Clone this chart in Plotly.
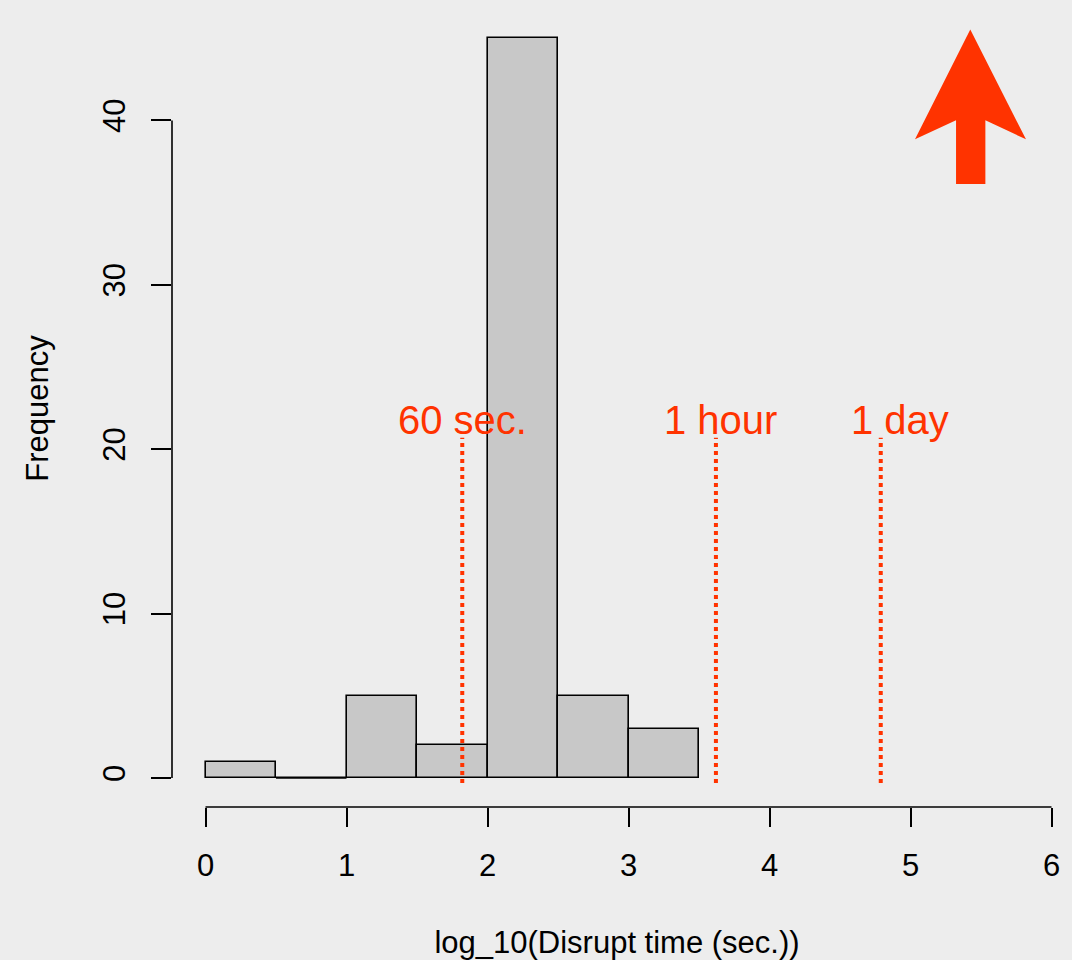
import plotly.graph_objects as go

# ---- data ----
bin_left = [0.0, 0.5, 1.0, 1.5, 2.0, 2.5, 3.0]
bin_width = 0.5
counts = [1, 0, 5, 2, 45, 5, 3]

x_ticks = [0, 1, 2, 3, 4, 5, 6]
y_ticks = [0, 10, 20, 30, 40]

marker_labels = ["60 sec.", "1 hour", "1 day"]
marker_line_x = [1.821, 3.62, 4.789]
marker_label_x = [1.821, 3.649, 4.926]
marker_line_top = 20.7
marker_label_y = 21.8

# arrow outline (data coordinates)
arrow_x = [5.424, 5.819, 5.531, 5.531, 5.323, 5.323, 5.032]
arrow_y = [45.54, 38.85, 40.02, 36.13, 36.13, 40.02, 38.85]

BG = "#EDEDED"
RED = "#FF3300"
FONT = "Liberation Sans, Arial, sans-serif"

centers = [b + bin_width / 2 for b in bin_left]

fig = go.Figure()
fig.add_trace(go.Bar(
    x=centers, y=counts, width=[bin_width] * len(counts),
    marker=dict(color="#C8C8C8", line=dict(color="black", width=1.6)),
    hoverinfo="skip", showlegend=False,
))

shapes = []
# zero-count bins drawn as a flat outline
for b, c in zip(bin_left, counts):
    if c == 0:
        shapes.append(dict(type="line", xref="x", yref="y", x0=b, x1=b + bin_width,
                           y0=0, y1=0, line=dict(color="black", width=1.6)))
# R-style axis lines
shapes.append(dict(type="line", xref="x", yref="paper", x0=x_ticks[0], x1=x_ticks[-1],
                   y0=0, y1=0, line=dict(color="black", width=1.6)))
shapes.append(dict(type="line", xref="paper", yref="y", x0=0, x1=0,
                   y0=y_ticks[0], y1=y_ticks[-1], line=dict(color="black", width=1.6)))
# dotted marker lines
for lx in marker_line_x:
    shapes.append(dict(type="line", xref="x", yref="y", x0=lx, x1=lx,
                       y0=-0.3, y1=marker_line_top,
                       line=dict(color=RED, width=4, dash="dot")))
# arrow
path = "M " + " L ".join(f"{x},{y}" for x, y in zip(arrow_x, arrow_y)) + " Z"
shapes.append(dict(type="path", xref="x", yref="y", path=path,
                   fillcolor=RED, line=dict(width=0)))

annotations = []
for lab, lx in zip(marker_labels, marker_label_x):
    annotations.append(dict(x=lx, y=marker_label_y, xref="x", yref="y", text=lab,
                            showarrow=False, xanchor="center", yanchor="middle",
                            font=dict(family=FONT, size=40, color=RED)))

fig.update_layout(
    width=1072, height=960,
    paper_bgcolor=BG, plot_bgcolor=BG,
    margin=dict(l=172, r=10, t=10, b=153, autoexpand=False),
    bargap=0,
    shapes=shapes, annotations=annotations,
    font=dict(family=FONT, size=31, color="black"),
    xaxis=dict(range=[-0.2376, 6.0745], tickvals=x_ticks, ticks="outside",
               ticklen=19, tickwidth=1.6, tickcolor="black", showgrid=False,
               zeroline=False, showline=False, ticklabelstandoff=12, automargin=False,
               title=dict(text="log_10(Disrupt time (sec.))", standoff=50,
                          font=dict(size=31))),
    yaxis=dict(range=[-1.764, 46.72], tickvals=y_ticks, ticks="outside",
               ticklen=20, tickwidth=1.6, tickcolor="black", showgrid=False,
               zeroline=False, showline=False, tickangle=-90, ticklabelstandoff=14,
               automargin=False,
               title=dict(text="Frequency", standoff=38, font=dict(size=31))),
)

fig.write_html("out.html", config={"displayModeBar": False},
               post_script="document.body.style.margin='0';document.body.style.background='#EDEDED';")
